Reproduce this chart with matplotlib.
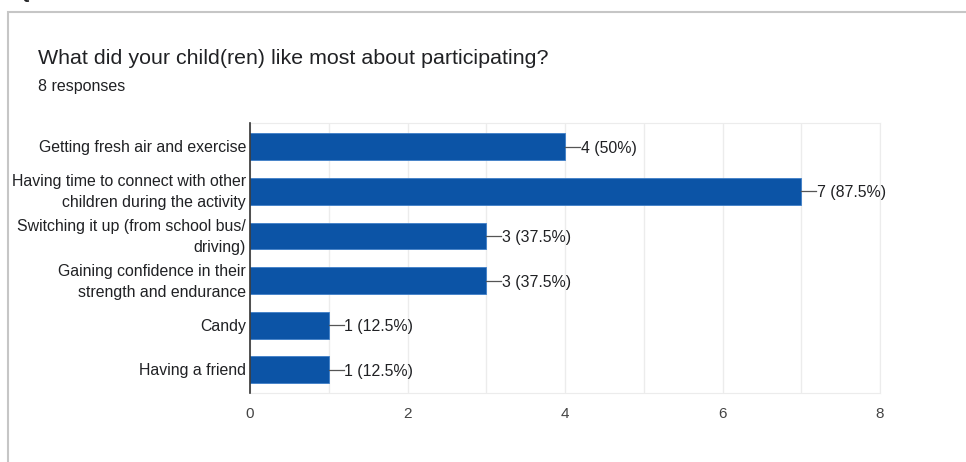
import matplotlib
matplotlib.use("Agg")
import matplotlib.pyplot as plt
import matplotlib.transforms as mtransforms
from matplotlib.patches import Rectangle

plt.rcParams['font.family'] = ['Liberation Sans', 'DejaVu Sans']

categories = [
    "Getting fresh air and exercise",
    "Having time to connect with other\nchildren during the activity",
    "Switching it up (from school bus/\ndriving)",
    "Gaining confidence in their\nstrength and endurance",
    "Candy",
    "Having a friend",
]
counts = [4, 7, 3, 3, 1, 1]
percents = ["50%", "87.5%", "37.5%", "37.5%", "12.5%", "12.5%"]
xticks = [0, 2, 4, 6, 8]

W, H = 966, 462
fig = plt.figure(figsize=(W / 100, H / 100), dpi=100)

# card border
fig.patches.append(Rectangle((8 / W, -0.1), 1.2, 1 - 12 / H + 0.1, transform=fig.transFigure,
                             fill=False, edgecolor='#c6c6c6', linewidth=1.5, zorder=0))
# cut-off header text at top-left
fig.text(18 / W, 1 + 6 / H, "Q: 3a-b", fontsize=12, fontweight='bold', color='#202124',
         ha='left', va='center')

fig.text(38 / W, 1 - 59 / H, "What did your child(ren) like most about participating?",
         fontsize=15.4, color='#202124', ha='left', va='center')
fig.text(38 / W, 1 - 86 / H, "8 responses", fontsize=11.5, color='#202124', ha='left', va='center')

ax = fig.add_axes([250 / W, 1 - 393 / H, 630 / W, 270 / H])
y = list(range(len(categories)))
ax.barh(y, counts, height=0.6, color='#0c54a6', edgecolor='#3f7fc8', linewidth=0.6, zorder=3)
for yi, c, p in zip(y, counts, percents):
    ax.plot([c, c + 0.19], [yi, yi], color='#555555', linewidth=0.9, zorder=3)
    ax.text(c + 0.2, yi, f"{c} ({p})", fontsize=11.4, color='#202124',
            va='center_baseline', ha='left')

ax.set_xlim(0, 8)
ax.set_ylim(len(categories) - 0.48, -0.53)
ax.set_xticks(xticks)
ax.set_xticks(range(0, 9), minor=True)
ax.set_yticks(y)
ax.set_yticklabels([''] * len(y))
label_trans = mtransforms.blended_transform_factory(ax.transAxes, ax.transData) + \
    mtransforms.ScaledTranslation(-4 / 100, -1 / 100, fig.dpi_scale_trans)
for yi, cat in zip(y, categories):
    ax.text(0, yi, cat, transform=label_trans, fontsize=11.4, color='#202124',
            ha='right', va='center', multialignment='right', linespacing=1.5)
ax.tick_params(axis='both', which='both', length=0)
ax.tick_params(axis='x', pad=10, labelsize=11, labelcolor='#444444')
ax.grid(axis='x', which='both', color='#ececec', linewidth=1, zorder=0)
for s in ['top', 'right', 'bottom']:
    ax.spines[s].set_color('#ececec')
ax.spines['left'].set_color('#333333')
ax.spines['left'].set_linewidth(1.2)
ax.spines['left'].set_zorder(4)

fig.savefig("out.png", dpi=100)
